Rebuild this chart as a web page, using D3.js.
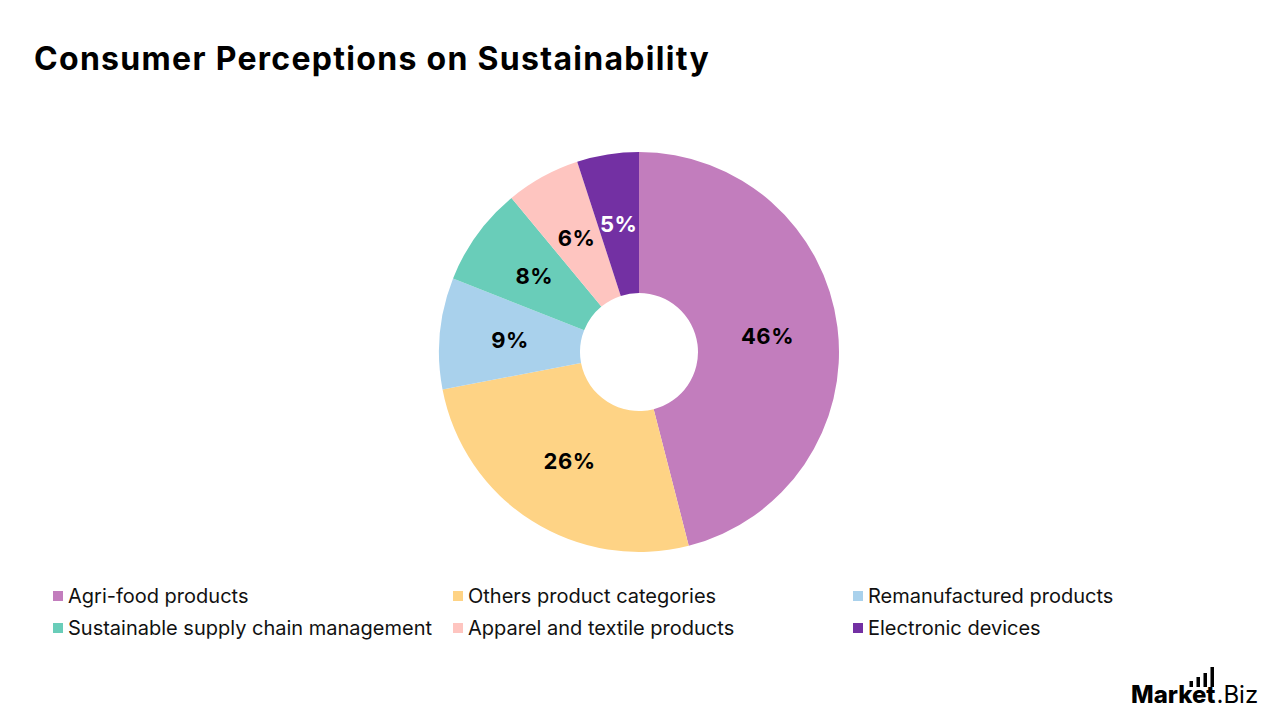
<!DOCTYPE html>
<html>
<head>
<meta charset="utf-8">
<script src="https://cdn.jsdelivr.net/npm/d3@7"></script>
<style>
  body { margin: 0; background: #fff; }
  text { font-family: "Inter", "Open Sans", sans-serif; }
</style>
</head>
<body>
<script>
var width = 1280, height = 720;
var cx = 639, cy = 352;
var outerR = 200, innerR = 59;

// data
var categories = ["Agri-food products", "Others product categories", "Remanufactured products",
                  "Sustainable supply chain management", "Apparel and textile products", "Electronic devices"];
var values = [46, 26, 9, 8, 6, 5];
var colors = ["#c27dbd", "#fed385", "#a9d1ec", "#69cdb9", "#fec5c0", "#7330a3"];
var labelColors = ["#000", "#000", "#000", "#000", "#000", "#fff"];

var data = categories.map(function (c, i) { return { name: c, value: values[i] }; });

const svg = d3.select("body").append("svg")
  .attr("width", width)
  .attr("height", height);

/* title */
svg.append("text")
  .attr("x", 34)
  .attr("y", 70)
  .attr("font-size", 32)
  .attr("font-weight", 700)
  .attr("letter-spacing", 1.3)
  .attr("fill", "#000")
  .text("Consumer Perceptions on Sustainability");

const color = d3.scaleOrdinal(categories, colors);

const pie = d3.pie().sort(null).value(d => d.value);
const arc = d3.arc().innerRadius(innerR).outerRadius(outerR);

const g = svg.append("g").attr("transform", "translate(" + cx + "," + cy + ")");

const arcs = pie(data);

g.selectAll("path")
  .data(arcs)
  .enter().append("path")
  .attr("d", arc)
  .attr("fill", d => color(d.data.name));

g.selectAll("text")
  .data(arcs)
  .enter().append("text")
  .attr("transform", d => "translate(" + arc.centroid(d) + ")")
  .attr("text-anchor", "middle")
  .attr("dy", "0.36em")
  .attr("font-size", 22)
  .attr("font-weight", 700)
  .attr("letter-spacing", 0.5)
  .attr("fill", (d, i) => labelColors[i])
  .text(d => d.data.value + "%");

/* legend */
const legend = svg.selectAll(".legend")
  .data(categories)
  .enter().append("g")
  .attr("class", "legend")
  .attr("transform", function (d, i) {
    return "translate(" + (53 + (i % 3) * 400) + "," + (596 + Math.floor(i / 3) * 32) + ")";
  });

legend.append("rect")
  .attr("x", 0)
  .attr("y", -5)
  .attr("width", 10)
  .attr("height", 10)
  .attr("fill", d => color(d));

legend.append("text")
  .attr("x", 15)
  .attr("y", 0)
  .attr("dy", "0.35em")
  .attr("font-size", 20)
  .attr("fill", "#111")
  .text(d => d);

/* logo */
const logo = svg.append("g").attr("transform", "translate(1131,703)");
const mk = logo.append("text")
  .attr("x", 0).attr("y", 0)
  .attr("font-size", 24)
  .attr("font-weight", 800)
  .attr("fill", "#000")
  .text("Market");
var mkw = mk.node().getComputedTextLength();
logo.append("text")
  .attr("x", mkw + 1).attr("y", 0)
  .attr("font-size", 24)
  .attr("font-weight", 400)
  .attr("fill", "#000")
  .text(".Biz");
var bars = [6, 10, 14, 20];
logo.selectAll(".bar")
  .data(bars)
  .enter().append("rect")
  .attr("class", "bar")
  .attr("x", (d, i) => mkw - 26 + i * 7)
  .attr("y", d => -16 - d)
  .attr("width", 3.5)
  .attr("height", d => d);
</script>
</body>
</html>
